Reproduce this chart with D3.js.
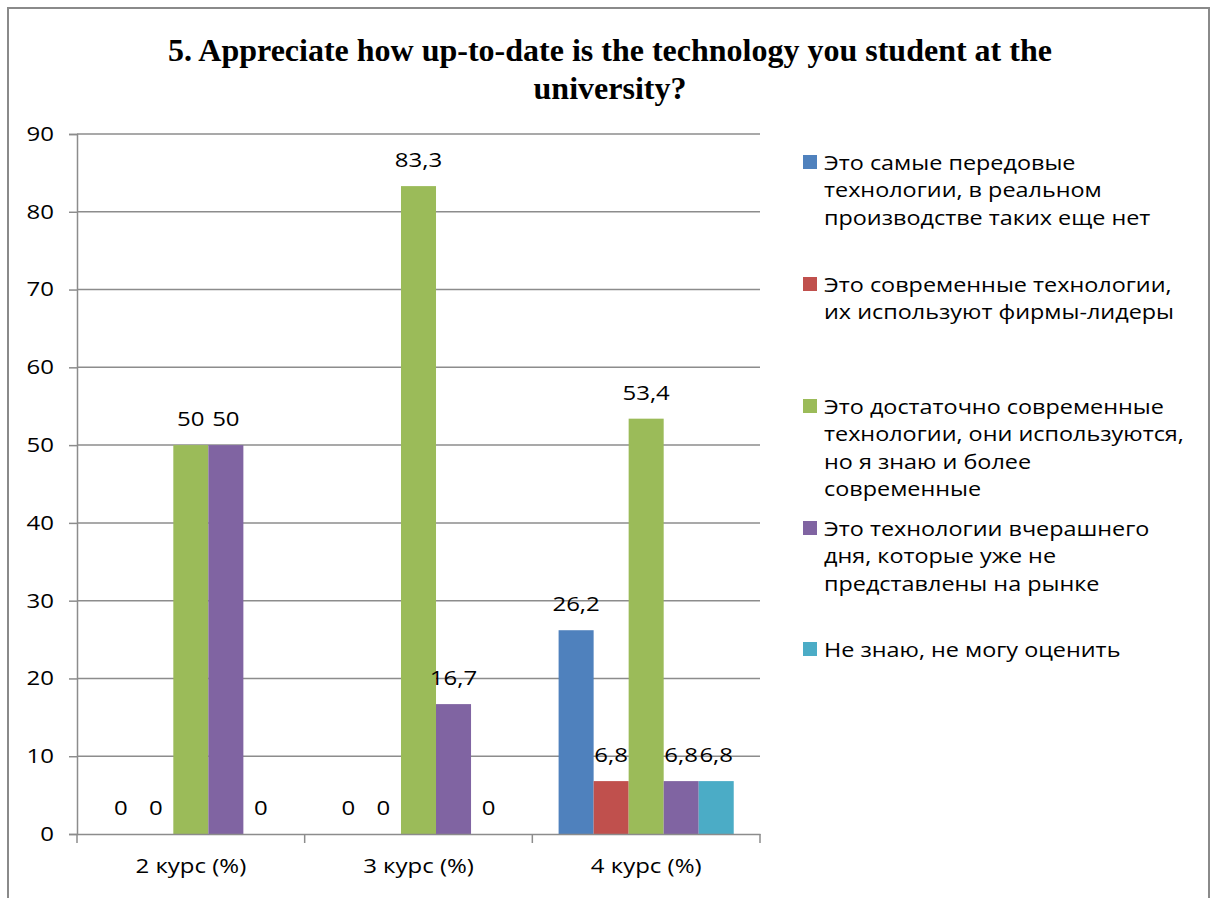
<!DOCTYPE html>
<html>
<head>
<meta charset="utf-8">
<script src="https://cdn.jsdelivr.net/npm/d3@7"></script>
<style>
  body { margin: 0; background: #fff; }
  svg { display: block; }
</style>
</head>
<body>
<div id="chart"></div>
<script>
// data
const categories = ['2 курс (%)', '3 курс (%)', '4 курс (%)'];
const series = [
    'Это самые передовые технологии, в реальном производстве таких еще нет',
    'Это современные технологии, их используют фирмы-лидеры',
    'Это достаточно современные технологии, они используются, но я знаю и более современные',
    'Это технологии вчерашнего дня, которые уже не представлены на рынке',
    'Не знаю, не могу оценить'
];
const legend_lines = [
    ['Это самые передовые', 'технологии, в реальном', 'производстве таких еще нет'],
    ['Это современные технологии,', 'их используют фирмы-лидеры'],
    ['Это достаточно современные', 'технологии, они используются,', 'но я знаю и более', 'современные'],
    ['Это технологии вчерашнего', 'дня, которые уже не', 'представлены на рынке'],
    ['Не знаю, не могу оценить']
];
const values = [
    [0, 0, 26.2],     // передовые
    [0, 0, 6.8],      // современные
    [50, 83.3, 53.4], // достаточно современные
    [50, 16.7, 6.8],  // вчерашнего дня
    [0, 0, 6.8]       // не знаю
];
const y_ticks = [0, 10, 20, 30, 40, 50, 60, 70, 80, 90];
const colors = ['#4F81BD', '#C0504D', '#9BBB59', '#8064A2', '#4BACC6'];

const width = 1214;
const height = 898;
const plot = {left: 77, right: 760, top: 134, bottom: 834};
const font = '"Open Sans", sans-serif';
const font_size = 20;
const sx = 1.2; // the original text is a bit wider than Open Sans

const svg = d3.select('#chart')
    .append('svg')
    .attr('width', width)
    .attr('height', height);

// outer frame (no bottom edge visible)
svg.append('path')
    .attr('d', `M8,${height} L8,8 L1209,8 L1209,${height}`)
    .attr('fill', 'none')
    .attr('stroke', '#8a8a8a')
    .attr('stroke-width', 2);

// title
const title = svg.append('text')
    .attr('text-anchor', 'middle')
    .attr('font-family', '"Liberation Serif", "Times New Roman", serif')
    .attr('font-weight', 'bold')
    .attr('font-size', 32)
    .attr('fill', '#000');
title.append('tspan').attr('x', 610).attr('y', 61)
    .text('5. Appreciate how up-to-date is the technology you student at the');
title.append('tspan').attr('x', 610).attr('y', 99).text('university?');

// scales
const x0 = d3.scaleBand()
    .domain(categories)
    .range([plot.left, plot.right])
    .padding(0);

const x1 = d3.scaleBand()
    .domain(d3.range(series.length))
    .range([0, x0.bandwidth()])
    .paddingInner(0)
    .paddingOuter(0.75);

const y = d3.scaleLinear()
    .domain([0, 90])
    .range([plot.bottom, plot.top]);

// gridlines
svg.append('g')
    .selectAll('line')
    .data(y_ticks.filter(d => d > 0))
    .enter()
    .append('line')
    .attr('x1', plot.left)
    .attr('x2', plot.right)
    .attr('y1', d => y(d))
    .attr('y2', d => y(d))
    .attr('stroke', '#8c8c8c')
    .attr('stroke-width', 1.5);

// bars
const groups = svg.append('g')
    .selectAll('g')
    .data(series)
    .enter()
    .append('g')
    .attr('fill', (d, i) => colors[i]);

groups.selectAll('rect')
    .data((d, i) => values[i].map((v, j) => ({s: i, c: categories[j], v: v})))
    .enter()
    .append('rect')
    .attr('x', d => x0(d.c) + x1(d.s))
    .attr('y', d => y(d.v))
    .attr('width', x1.bandwidth())
    .attr('height', d => y(0) - y(d.v));

// data labels
const fmt = v => String(v).replace('.', ',');
groups.selectAll('text')
    .data((d, i) => values[i].map((v, j) => ({s: i, c: categories[j], v: v})))
    .enter()
    .append('text')
    .attr('transform', d => `translate(${x0(d.c) + x1(d.s) + x1.bandwidth() / 2}, ${y(d.v) - 19}) scale(${sx}, 1)`)
    .attr('text-anchor', 'middle')
    .attr('font-family', font)
    .attr('font-size', font_size)
    .attr('fill', '#000')
    .text(d => fmt(d.v));

// y axis
const y_axis = svg.append('g')
    .attr('transform', `translate(${plot.left}, 0)`)
    .call(d3.axisLeft(y).tickValues(y_ticks).tickSize(8));
y_axis.select('.domain').attr('stroke', '#8c8c8c').attr('stroke-width', 1.5);
y_axis.selectAll('.tick line').attr('stroke', '#8c8c8c').attr('stroke-width', 1.5);
y_axis.selectAll('.tick text')
    .attr('x', -23 / sx)
    .attr('transform', `scale(${sx}, 1)`)
    .attr('font-family', font)
    .attr('font-size', font_size)
    .attr('fill', '#000');

// x axis
const x_axis = svg.append('g')
    .attr('transform', `translate(0, ${plot.bottom})`)
    .call(d3.axisBottom(x0).tickSize(0).tickPadding(25));
x_axis.select('.domain').attr('stroke', '#8c8c8c').attr('stroke-width', 1.5);
x_axis.selectAll('.tick text')
    .attr('transform', `scale(${sx}, 1)`)
    .attr('font-family', font)
    .attr('font-size', font_size)
    .attr('fill', '#000');
// category boundary ticks
x_axis.append('g')
    .selectAll('line')
    .data(categories.concat(['end']))
    .enter()
    .append('line')
    .attr('x1', (d, i) => i < categories.length ? x0(d) : plot.right)
    .attr('x2', (d, i) => i < categories.length ? x0(d) : plot.right)
    .attr('y1', 0)
    .attr('y2', 9)
    .attr('stroke', '#8c8c8c')
    .attr('stroke-width', 1.5);

// legend
const legend_y = [162, 284, 406, 528, 649];
const legend = svg.append('g');
legend_lines.forEach((lines, i) => {
    legend.append('rect')
        .attr('x', 803)
        .attr('y', legend_y[i] - 7)
        .attr('width', 14)
        .attr('height', 14)
        .attr('fill', colors[i]);
    const t = legend.append('text')
        .attr('transform', `translate(824, ${legend_y[i] + 8}) scale(1.17, 1)`)
        .attr('font-family', font)
        .attr('font-size', font_size)
        .attr('fill', '#000');
    lines.forEach((line, k) => {
        t.append('tspan')
            .attr('x', 0)
            .attr('y', k * 27.5)
            .text(line);
    });
});
</script>
</body>
</html>
